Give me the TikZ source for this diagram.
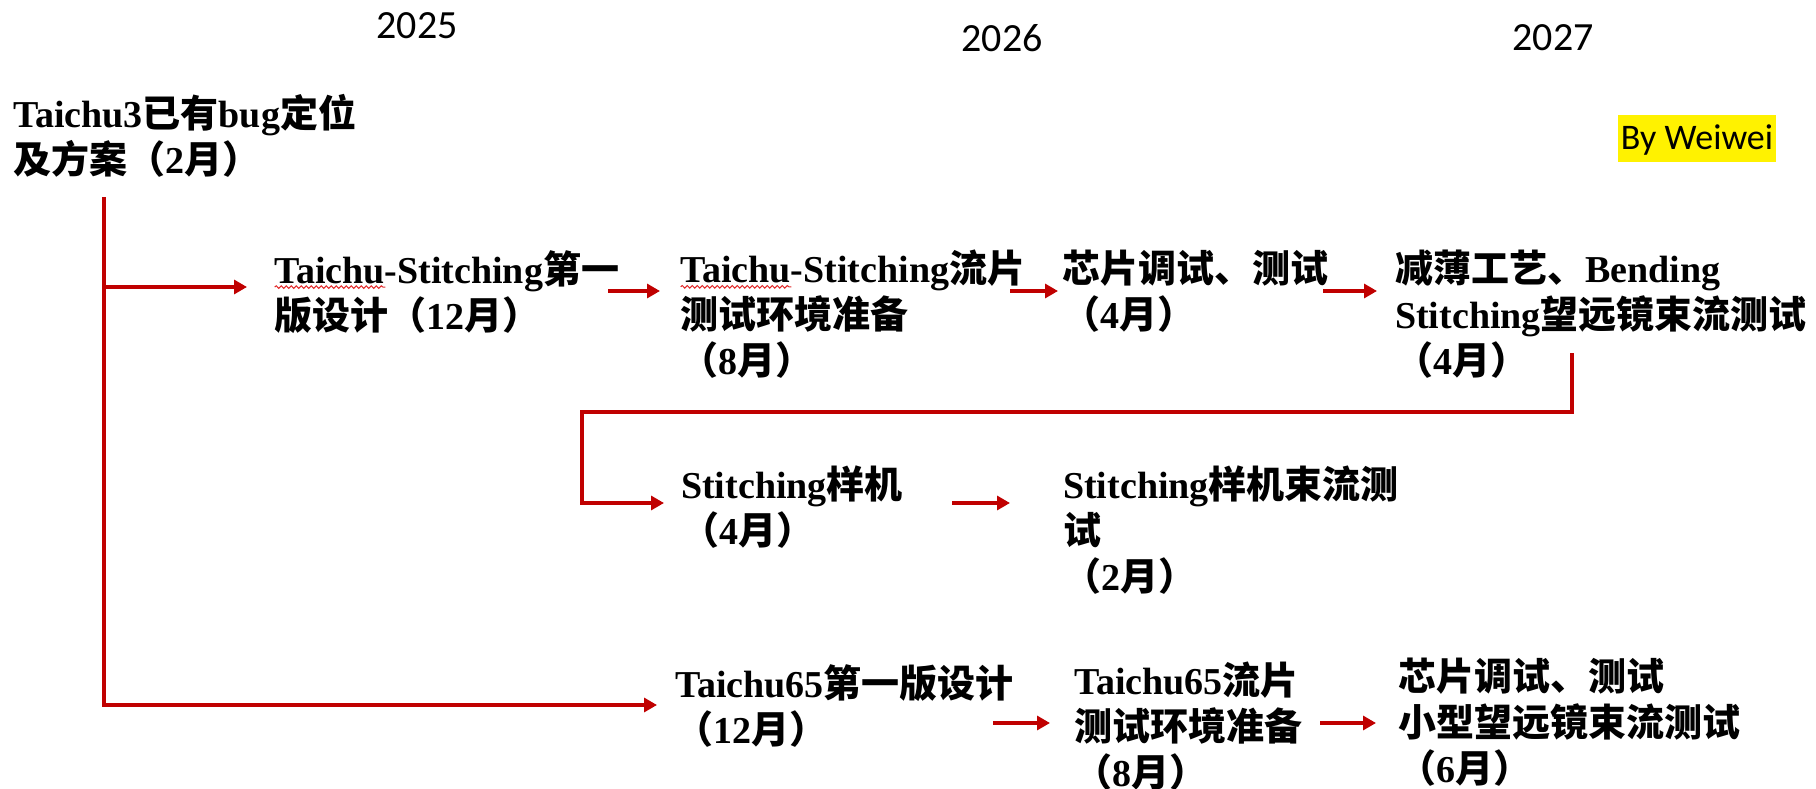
\documentclass[tikz,border=0pt]{standalone}
\usepackage{fontspec}
\setmainfont{Liberation Serif}
\newfontfamily\zhfont{Noto Sans CJK SC}
\newfontfamily\yrfont{Carlito}
\usetikzlibrary{arrows.meta,decorations.pathmorphing}
\definecolor{arrred}{RGB}{192,0,0}
\definecolor{wavered}{RGB}{225,40,40}
\newcommand\zh[1]{{\zhfont\bfseries #1}}
\newcommand\wavy[1]{\setbox0=\hbox{#1}\rlap{\raisebox{-4pt}{\tikz[baseline=0pt]\draw[wavered,line width=1pt,decorate,decoration={snake,amplitude=1.3pt,segment length=5pt}] (0pt,0pt) -- (\the\wd0,0pt);}}\box0}
\begin{document}
\begin{tikzpicture}[x=1pt,y=-1pt,
  lbl/.style={font=\fontsize{38}{46}\selectfont\bfseries, inner sep=0pt, align=left, anchor=north west, text=black},
  year/.style={font=\yrfont\fontsize{40}{40}\selectfont, inner sep=0pt},
  arr/.style={draw=arrred, line width=3.2pt, -{Triangle[length=13pt,width=14pt]}}]
\useasboundingbox (0,0) rectangle (1816,789);
% years
\node[year] (y25) at (417,26) {2025};
\node[year] (y26) at (1002,38) {2026};
\node[year] (y27) at (1553,38) {2027};
\node[fill=yellow, font=\yrfont\fontsize{36}{36}\selectfont, inner xsep=3pt, inner ysep=1pt, text height=33pt, text depth=12pt, anchor=north] (by) at (1697,115) {By Weiwei};
% nodes
\node[lbl] (top) at (13,94) {Taichu3\zh{已有}bug\zh{定位}\\\zh{及方案（}2\zh{月）}};
\node[lbl] (ts1) at (274,250) {\wavy{Taichu}-Stitching\zh{第一}\\\zh{版设计（}12\zh{月）}};
\node[lbl] (ts2) at (680,250) {\wavy{Taichu}-Stitching\zh{流片}\\\zh{测试环境准备}\\\zh{（}8\zh{月）}};
\node[lbl] (chip1) at (1062,250) {\zh{芯片调试、测试}\\\zh{（}4\zh{月）}};
\node[lbl] (thin) at (1395,250) {\zh{减薄工艺、}Bending\\Stitching\zh{望远镜束流测试}\\\zh{（}4\zh{月）}};
\node[lbl] (stm) at (681,466) {Stitching\zh{样机}\\\zh{（}4\zh{月）}};
\node[lbl] (stmb) at (1063,466) {Stitching\zh{样机束流测}\\\zh{试}\\\zh{（}2\zh{月）}};
\node[lbl] (t65a) at (675,664) {Taichu65\zh{第一版设计}\\\zh{（}12\zh{月）}};
\node[lbl] (t65b) at (1074,662) {Taichu65\zh{流片}\\\zh{测试环境准备}\\\zh{（}8\zh{月）}};
\node[lbl] (chip2) at (1398,658) {\zh{芯片调试、测试}\\\zh{小型望远镜束流测试}\\\zh{（}6\zh{月）}};
% connector coordinates
\coordinate (trunkTop) at (104,197);
\coordinate (trunkBot) at (104,705);
\coordinate (b1) at (104,287);
\coordinate (b1e) at (247,287);
\coordinate (t65in) at (657,705);
\coordinate (a12s) at (608,291); \coordinate (a12e) at (660,291);
\coordinate (a23s) at (1010,291); \coordinate (a23e) at (1058,291);
\coordinate (a34s) at (1323,291); \coordinate (a34e) at (1377,291);
\coordinate (l1) at (1572,353); \coordinate (l2) at (1572,412);
\coordinate (l3) at (582,412); \coordinate (l4) at (582,503);
\coordinate (l5) at (664,503);
\coordinate (a56s) at (952,503); \coordinate (a56e) at (1010,503);
\coordinate (a78s) at (993,723); \coordinate (a78e) at (1050,723);
\coordinate (a89s) at (1320,723); \coordinate (a89e) at (1376,723);
% connectors
\draw[arr] (trunkTop) -- (trunkBot) -- (t65in);
\draw[arr] (b1) -- (b1e);
\draw[arr] (a12s) -- (a12e);
\draw[arr] (a23s) -- (a23e);
\draw[arr] (a34s) -- (a34e);
\draw[arr] (l1) -- (l2) -- (l3) -- (l4) -- (l5);
\draw[arr] (a56s) -- (a56e);
\draw[arr] (a78s) -- (a78e);
\draw[arr] (a89s) -- (a89e);
\end{tikzpicture}
\end{document}
